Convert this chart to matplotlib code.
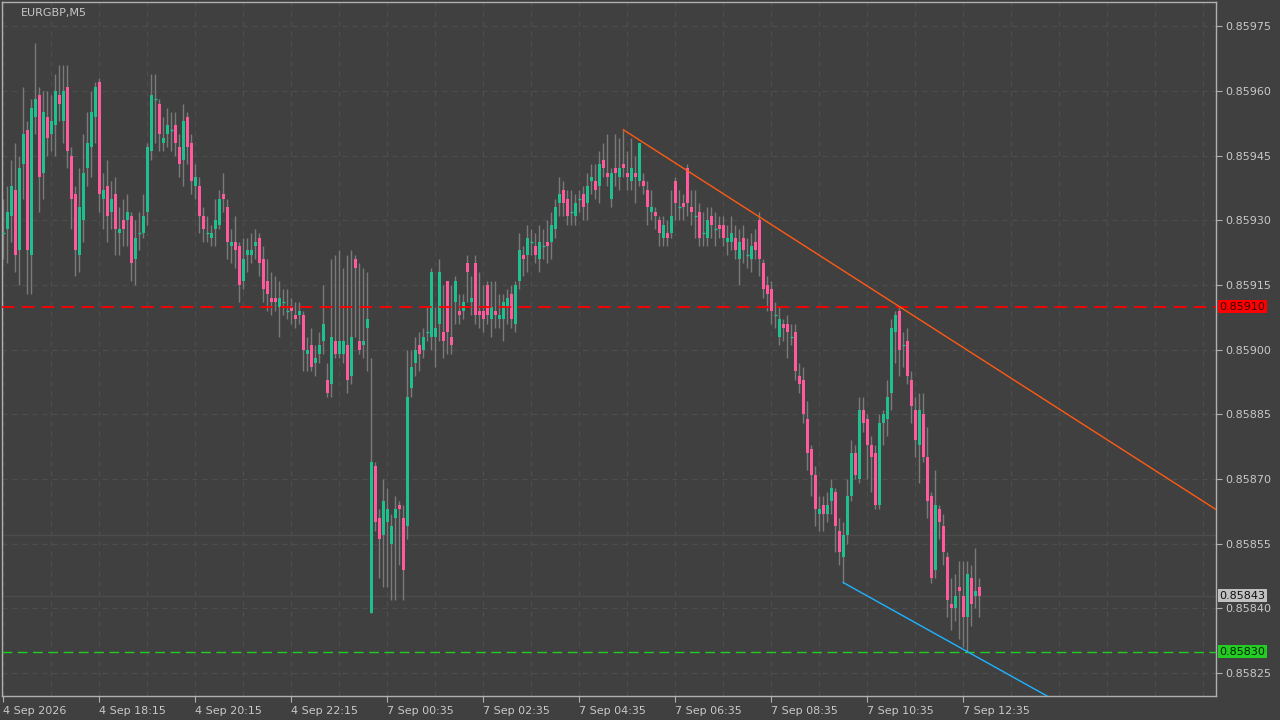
import numpy as np
import matplotlib
matplotlib.use("Agg")
import matplotlib.pyplot as plt

# prices in points: value = 0.85 + pts * 1e-5
opens_pts = [927,928,931,937,923,943,951,922,954,959,941,954,950,952,959,953,961,945,936,922,
930,942,947,954,962,935,938,932,936,927,930,930,931,921,927,927,932,946,958,957,
948,950,951,952,947,944,954,948,938,938,931,927,926,928,929,936,933,924,925,924,
916,922,922,924,926,921,916,912,912,910,911,909,910,908,908,908,899,901,897,899,
902,893,892,902,899,899,901,894,921,902,901,905,839,873,861,857,860,855,861,864,
861,859,891,897,901,900,904,903,903,906,904,916,903,911,909,909,920,911,920,909,
909,915,907,909,907,907,910,913,906,916,922,922,925,924,921,924,925,925,928,934,
937,935,932,931,935,936,934,939,939,938,944,941,935,942,940,943,941,939,941,939,
939,937,932,932,930,926,927,927,939,933,934,942,933,931,932,927,926,931,928,929,
929,925,925,926,921,926,922,921,925,930,920,915,914,908,903,906,906,903,904,894,
893,884,877,871,862,864,862,865,867,858,852,857,866,876,870,886,884,878,876,864,
883,884,890,904,909,901,902,893,886,878,885,875,866,849,863,859,852,841,840,845,
843,838,847,843,845]
closes_pts = [927,932,938,922,942,950,923,956,958,940,955,949,953,960,957,960,946,935,923,933,
941,948,955,961,936,937,931,935,928,928,928,932,920,926,927,931,947,959,958,950,
949,952,951,948,943,953,947,939,940,931,928,927,927,930,935,935,925,925,923,915,
921,923,923,925,920,914,913,911,911,912,911,909,909,907,909,900,900,896,898,901,
906,890,903,899,902,902,893,903,919,900,902,907,874,860,856,865,863,859,863,863,
849,889,896,900,899,903,904,918,905,918,902,904,901,916,908,911,918,912,908,908,
907,908,910,908,908,911,912,907,915,923,921,926,925,922,925,924,924,929,933,936,
934,931,932,934,935,933,938,940,937,943,942,940,941,941,942,942,940,942,940,948,
938,933,933,931,927,929,926,931,934,933,933,934,932,931,926,927,930,929,928,928,
926,926,927,923,925,923,922,924,923,921,914,913,909,908,907,905,904,903,895,892,
885,876,871,863,863,862,864,868,859,853,857,866,876,871,886,883,878,875,864,883,
885,889,905,908,900,901,894,887,879,886,875,865,847,864,860,853,842,840,843,844,
838,848,841,844,843]
highs_pts = [935,938,944,948,945,961,953,958,971,961,960,960,959,964,966,966,966,947,938,942,
950,955,960,962,963,941,944,939,940,933,935,936,932,930,932,936,948,964,964,958,
954,956,955,955,950,957,955,950,943,940,933,931,929,935,937,941,935,928,931,925,
926,926,927,928,927,924,921,918,917,916,914,914,912,911,911,909,903,905,901,904,
915,897,921,922,923,919,922,923,922,920,919,918,898,874,863,870,868,862,866,865,
864,900,900,903,904,905,910,919,910,921,915,916,915,917,913,913,922,917,922,918,
915,916,916,916,913,913,914,915,916,927,924,929,928,927,929,928,930,932,935,940,
939,937,937,936,937,938,941,943,943,946,948,950,942,950,949,951,946,949,945,948,
941,939,937,933,931,931,930,937,940,937,936,943,937,937,934,932,933,933,932,931,
931,929,931,929,928,929,926,927,928,932,921,917,916,911,910,907,908,906,906,897,
896,888,878,873,866,866,867,870,868,861,860,870,879,878,889,889,885,880,878,885,
886,893,907,909,910,904,905,895,889,890,890,882,867,872,864,862,853,847,848,851,
851,851,850,854,847]
lows_pts = [921,920,925,918,915,935,913,913,950,932,935,945,946,945,953,948,942,928,917,918,
925,938,940,948,932,928,925,928,922,922,924,924,916,915,923,926,929,944,948,946,
946,947,946,945,940,938,943,936,935,927,925,925,924,924,928,932,921,920,919,911,
914,918,920,921,917,911,909,908,909,903,908,907,906,905,906,895,895,895,894,897,
899,889,889,898,898,897,890,892,903,899,898,895,839,858,847,845,845,842,842,850,
842,856,889,894,895,898,902,900,896,902,898,899,899,906,906,907,911,908,906,905,
904,906,903,905,905,902,906,905,904,914,917,918,922,920,918,921,920,921,926,931,
931,929,929,929,932,930,930,936,935,934,940,938,933,938,937,940,937,937,934,938,
936,929,930,928,924,924,924,926,930,930,930,931,929,926,924,924,924,926,924,926,
924,922,923,921,915,920,919,918,921,917,912,909,906,905,901,902,898,901,893,890,
883,872,866,859,858,858,860,862,853,850,846,855,865,870,869,881,870,867,863,863,
878,880,886,897,894,896,892,883,875,869,874,861,846,847,856,850,838,835,837,833,
831,830,836,840,838]
price_ticks = [0.85975, 0.85960, 0.85945, 0.85930, 0.85915, 0.85900, 0.85885,
               0.85870, 0.85855, 0.85840, 0.85825]
time_labels = ["4 Sep 2026", "4 Sep 18:15", "4 Sep 20:15", "4 Sep 22:15", "7 Sep 00:35",
               "7 Sep 02:35", "7 Sep 04:35", "7 Sep 06:35", "7 Sep 08:35", "7 Sep 10:35",
               "7 Sep 12:35"]
time_label_idx = [0, 24, 48, 72, 96, 120, 144, 168, 192, 216, 240]
resistance = 0.85910
support = 0.85830
last_price = 0.85843
trend_high_idx = (155, 224)
trend_low_idx = (210, 241)
symbol = "EURGBP,M5"

conv = lambda a: 0.85 + np.array(a) * 1e-5
o, c, h, l = conv(opens_pts), conv(closes_pts), conv(highs_pts), conv(lows_pts)
x = np.arange(len(o))

BG = "#404040"
GREEN = "#1fbf8f"
PINK = "#ff5a9e"
TXT = "#c8c8c8"

fig = plt.figure(figsize=(12.8, 7.2), dpi=100, facecolor=BG)
ax = fig.add_axes([2/1280, 24/720, 1214/1280, 694/720], facecolor=BG)
ymin, ymax = 0.858197, 0.859806
xmin, xmax = -0.33, 303.2
ax.set_xlim(xmin, xmax)
ax.set_ylim(ymin, ymax)

# grid
for i in range(0, 304, 12):
    ax.axvline(i, color="#4e4e4e", lw=0.9, ls=(0, (4, 4)), zorder=0)
for p in price_ticks:
    ax.axhline(p, color="#4e4e4e", lw=0.9, ls=(0, (4, 4)), zorder=0)
ax.axhline(0.85857, color="#4c4c4c", lw=1, zorder=0)
ax.axhline(last_price, color="#4c4c4c", lw=1, zorder=0)

# candles
ax.vlines(x, l, h, color="#7a7a7a", lw=1, zorder=2)
body = np.abs(c - o)
bot = np.minimum(o, c)
colors = np.where(c > o, GREEN, np.where(c < o, PINK, GREEN))
mask = body > 0
ax.bar(x[mask], body[mask], bottom=bot[mask], width=0.75, color=colors[mask], lw=0, zorder=3)
dj = ~mask
ax.hlines(c[dj], x[dj] - 0.4, x[dj] + 0.4, color=GREEN, lw=1, zorder=3)

# level lines
ax.axhline(resistance, color="#ff0000", lw=1.3, ls=(0, (7, 4)), zorder=4)
ax.axhline(support, color="#22cc22", lw=1, ls=(0, (7, 4)), zorder=4)

# trend lines
a, b = trend_high_idx
slope = (h[b] - h[a]) / (b - a)
ax.plot([a, xmax], [h[a], h[a] + slope * (xmax - a)], color="#ff5a14", lw=1, zorder=5)
a, b = trend_low_idx
slope = (l[b] - l[a]) / (b - a)
ax.plot([a, xmax], [l[a], l[a] + slope * (xmax - a)], color="#1eb4ff", lw=1, zorder=5)

# axes styling
for s in ax.spines.values():
    s.set_color("#b0b0b0")
    s.set_linewidth(1)
ax.yaxis.tick_right()
ax.set_yticks(price_ticks)
ax.set_yticklabels([f"{p:.5f}" for p in price_ticks])
ax.tick_params(axis="y", colors="#b0b0b0", labelcolor=TXT, labelsize=8, length=4, pad=3)
ax.set_xticks(time_label_idx)
ax.set_xticklabels(time_labels, ha="left")
ax.tick_params(axis="x", colors="#b0b0b0", labelcolor=TXT, labelsize=8, length=4, pad=3)

def tag(p, fc, tc):
    ax.text(1.003, p, f"{p:.5f}", transform=ax.get_yaxis_transform(), va="center", ha="left",
            fontsize=8, color=tc, zorder=10, clip_on=False,
            bbox=dict(boxstyle="square,pad=0.15", fc=fc, ec="none"))

tag(resistance, "#ff0000", "#3a0000")
tag(support, "#22cc22", "#002200")
tag(last_price, "#c0c0c0", "#101010")

fig.text(21/1280, 1 - 13/720, symbol, color=TXT, fontsize=8, va="center", ha="left")

fig.savefig("out.png", dpi=100, facecolor=BG)
